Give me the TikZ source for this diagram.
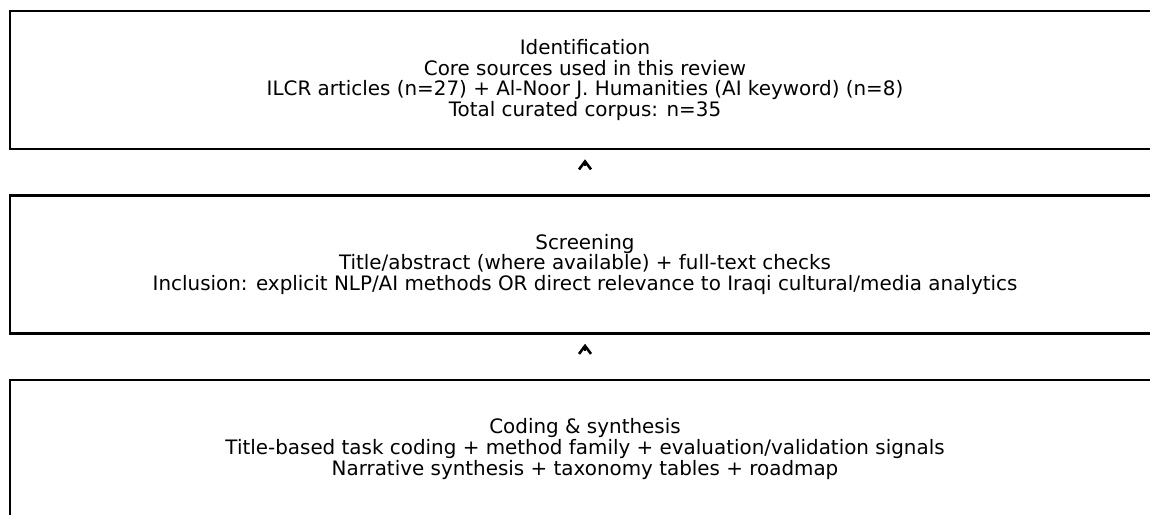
\documentclass[tikz,border=0pt]{standalone}
\usepackage{fontspec}
\setmainfont{DejaVu Sans}
\usetikzlibrary{arrows.meta}

\begin{document}
\begin{tikzpicture}[x=1pt,y=1pt,
        stage/.style={draw,line width=2.5pt,minimum width=1150pt,minimum height=138pt,
                      align=center,inner sep=0pt,font=\fontsize{19.9}{20.6}\selectfont},
        flow/.style={-{Straight Barb[length=8pt,width=12pt,line width=2.6pt]},line width=2.6pt,
                     shorten >=9pt,shorten <=28pt}]
        \useasboundingbox (0,0) rectangle (1150,-514);
        \clip (0,0) rectangle (1150,-514);

        \node[stage] (idf) at (585,-80) {Identification\\Core sources used in this review\\
            ILCR articles (n=27) + Al-Noor J. Humanities (AI keyword) (n=8)\\Total curated corpus: n=35};
        \node[stage] (scr) at (585,-264.5) {Screening\\Title/abstract (where available) + full-text checks\\
            Inclusion: explicit NLP/AI methods OR direct relevance to Iraqi cultural/media analytics};
        \node[stage] (cod) at (585,-449) {Coding \& synthesis\\
            Title-based task coding + method family + evaluation/validation signals\\
            Narrative synthesis + taxonomy tables + roadmap};

        \draw[flow] (scr.north) -- (idf.south);
        \draw[flow] (cod.north) -- (scr.south);
    \end{tikzpicture}
\end{document}
